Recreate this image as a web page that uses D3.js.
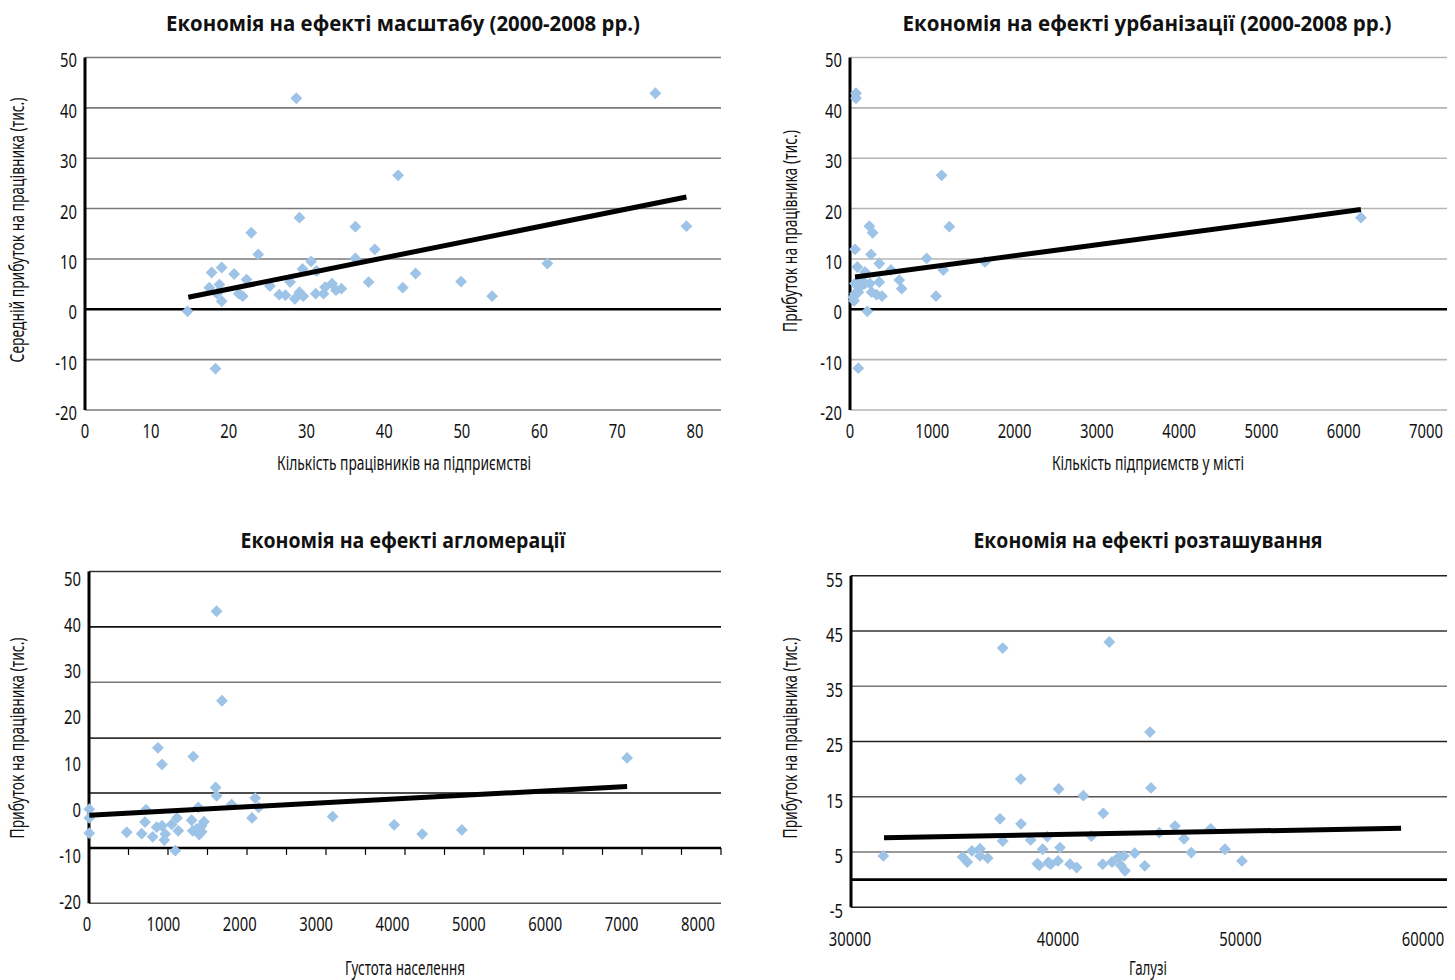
<!DOCTYPE html>
<html><head><meta charset="utf-8">
<script src="https://cdn.jsdelivr.net/npm/d3@7"></script>
<style>
body{margin:0;background:#fff;}
svg{display:block;}
.tk{font-family:"Noto Sans","Open Sans",sans-serif;font-size:20px;fill:#111;}
.al{font-family:"Noto Sans","Open Sans",sans-serif;font-size:19px;fill:#111;}
.ttl{font-family:"Open Sans","Noto Sans",sans-serif;font-weight:700;font-size:21px;fill:#111;}
</style></head>
<body>
<svg id="c" width="1455" height="980"></svg>
<script>
// ---------- DATA ----------
// Panel 1: scale economies
const p1Title = "Економія на ефекті масштабу (2000-2008 рр.)";
const p1XLabel = "Кількість працівників на підприємстві";
const p1YLabel = "Середній прибуток на працівника (тис.)";
const p1XTicks = [0,10,20,30,40,50,60,70,80];
const p1YTicks = [50,40,30,20,10,0,-10,-20];
const p1X = [28.7,41.8,29.1,22.9,36.3,23.8,38.8,36.3,30.6,17.8,19.1,20.7,29.5,31.3,17.5,18.8,18.5,19.1,22.3,21.3,21.8,25.3,27.9,26.5,27.3,28.5,29.1,29.6,31.2,32.2,32.4,33.3,33.8,34.5,38.0,42.4,14.7,18.3,44.05,74.9,78.9,61.0,49.9,53.9];
const p1Y = [41.9,26.6,18.2,15.2,16.4,10.9,11.9,10.1,9.5,7.3,8.3,7.0,8.0,7.6,4.3,4.9,3.1,1.6,5.9,3.1,2.6,4.6,5.4,2.9,2.8,2.1,3.4,2.6,3.1,3.1,4.4,5.1,3.8,4.1,5.4,4.3,-0.4,-11.8,7.1,42.9,16.5,9.1,5.5,2.6];
const p1TrendX = [14.8,78.9];
const p1TrendY = [2.4,22.3];

// Panel 2: urbanization economies
const p2Title = "Економія на ефекті урбанізації (2000-2008 рр.)";
const p2XLabel = "Кількість підприємств у місті";
const p2YLabel = "Прибуток на працівника (тис.)";
const p2XTicks = [0,1000,2000,3000,4000,5000,6000,7000];
const p2YTicks = [50,40,30,20,10,0,-10,-20];
const p2X = [73,73,1114,235,275,1207,61,255,932,89,356,498,182,1134,1640,599,356,628,1045,210,101,61,122,61,49,243,263,324,389,182,101,40,142,6209];
const p2Y = [42.9,41.9,26.6,16.5,15.2,16.4,11.9,10.9,10.1,8.4,9.1,7.8,7.4,7.8,9.4,5.8,5.4,4.1,2.6,-0.4,-11.7,5.1,4.4,3.1,1.7,5.1,3.4,2.9,2.6,5.1,3.4,2.4,5.8,18.2];
const p2TrendX = [61,6209];
const p2TrendY = [6.4,19.8];

// Panel 3: agglomeration economies
const p3Title = "Економія на ефекті агломерації";
const p3XLabel = "Густота населення";
const p3YLabel = "Прибуток на працівника (тис.)";
const p3XTicks = [0,1000,2000,3000,4000,5000,6000,7000,8000];
const p3XMinorTicks = d3.range(0,8001,500);
const p3YTicks = [50,40,30,20,10,0,-10,-20];
const p3Grid = [51.4,39.4,27.4,15.3,3.4,-20.5];
const p3Axis = -8.5;
const p3X = [1697,1767,929,982,1391,1684,1697,30,30,30,520,716,759,772,860,912,982,1025,1012,1109,1178,1195,1156,1370,1384,1436,1470,1501,1501,1531,1457,1894,2203,2247,2160,3216,4022,4389,4908,7072];
const p3Y = [42.8,23.4,13.2,9.6,11.3,4.6,2.8,-0.1,-2.0,-5.3,-5.1,-5.4,-2.9,-0.2,-6.1,-4.0,-3.7,-5.5,-6.8,-3.4,-2.0,-4.8,-9.1,-2.5,-4.8,-4.4,-5.6,-5.0,-3.7,-2.8,0.3,0.9,2.3,0.3,-2.0,-1.7,-3.5,-5.5,-4.6,11.0];
const p3TrendX = [30,7072];
const p3TrendY = [-1.4,4.8];

// Panel 4: localization economies
const p4Title = "Економія на ефекті розташування";
const p4XLabel = "Галузі";
const p4YLabel = "Прибуток на працівника (тис.)";
const p4XTicks = [30000,40000,50000,60000];
const p4YTicks = [55,45,35,25,15,5,-5];
const p4X = [31601,37341,42811,38206,40038,41387,42482,37212,38221,37341,38688,39486,39264,40110,41827,35418,35639,35865,36250,36250,36620,39005,39101,39534,39649,40000,40658,41024,42449,42959,43326,43436,43616,43671,44203,45041,45096,46411,45551,46904,48367,44753,47305,49151,50082];
const p4Y = [4.3,41.9,43.0,18.2,16.4,15.2,12.0,11.0,10.1,7.0,7.2,7.8,5.5,5.8,7.9,4.1,3.2,5.2,5.6,4.3,3.9,2.9,2.6,3.1,2.8,3.4,2.8,2.2,2.8,3.2,4.1,2.6,4.3,1.6,4.8,26.7,16.6,9.7,8.5,7.4,9.2,2.5,4.9,5.5,3.4];
const p4TrendX = [31635,58800];
const p4TrendY = [7.6,9.3];

// ---------- DRAWING ----------
const svg = d3.select("#c");
const PT = "#9DC3E6";
const diamond = d3.symbol(d3.symbolSquare, 70);
const SX = 0.74;

function panel(o){
  const g = svg.append("g");
  o.grid.forEach((v,i)=>{
    g.append("line").attr("x1",o.left).attr("x2",o.right)
      .attr("y1",o.y(v)).attr("y2",o.y(v))
      .attr("stroke",o.gridColor[i % o.gridColor.length]).attr("stroke-width",1.6);
  });
  g.append("line").attr("x1",o.left).attr("x2",o.right)
    .attr("y1",o.y(o.zero)).attr("y2",o.y(o.zero))
    .attr("stroke","#000").attr("stroke-width",2.6);
  if(o.minor){
    o.minor.forEach(v=>{
      g.append("line").attr("x1",o.tickX(v)).attr("x2",o.tickX(v))
        .attr("y1",o.y(o.zero)).attr("y2",o.y(o.zero)+7)
        .attr("stroke","#000").attr("stroke-width",1.2);
    });
  }
  g.append("line").attr("x1",o.left).attr("x2",o.left)
    .attr("y1",o.y(o.grid[0])).attr("y2",o.y(o.grid[o.grid.length-1]))
    .attr("stroke","#000").attr("stroke-width",3);
  g.selectAll("path.pt").data(o.xs.map((x,i)=>[x,o.ys[i]])).join("path")
    .attr("class","pt").attr("d",diamond)
    .attr("transform",d=>`translate(${o.x(d[0])},${o.y(d[1])}) rotate(45)`)
    .attr("fill",PT);
  g.append("path").datum(o.tx.map((x,i)=>[x,o.ty[i]]))
    .attr("d",d3.line().x(d=>o.x(d[0])).y(d=>o.y(d[1])))
    .attr("stroke","#000").attr("stroke-width",5).attr("fill","none");
  o.yTicks.forEach(v=>{
    g.append("text").attr("class","tk")
      .attr("transform",`translate(${o.left-8},${o.y(v)+o.yLabOff}) scale(${SX},1)`)
      .attr("text-anchor","end").attr("dominant-baseline","central").text(v);
  });
  o.xTicks.forEach(v=>{
    g.append("text").attr("class","tk")
      .attr("transform",`translate(${o.x(v)},${o.xLabY}) scale(${SX},1)`)
      .attr("text-anchor","middle").attr("dominant-baseline","central").text(v);
  });
  g.append("text").attr("class","ttl").attr("x",o.tcx).attr("y",o.tcy)
    .attr("text-anchor","middle").attr("dominant-baseline","central")
    .attr("textLength",o.tLen).attr("lengthAdjust","spacingAndGlyphs").text(o.title);
  g.append("text").attr("class","al").attr("x",o.xlx).attr("y",o.xly)
    .attr("text-anchor","middle").attr("dominant-baseline","central")
    .attr("textLength",o.xlLen).attr("lengthAdjust","spacingAndGlyphs").text(o.xLabel);
  g.append("text").attr("class","al")
    .attr("transform",`translate(${o.ylx},${o.yly}) rotate(-90)`)
    .attr("text-anchor","middle").attr("dominant-baseline","central")
    .attr("textLength",o.ylLen).attr("lengthAdjust","spacingAndGlyphs").text(o.yLabel);
}

// Panel 1
{
  const x = d3.scaleLinear().domain([0,10,80]).range([85,151,695]);
  const y = d3.scaleLinear().domain([-20,50]).range([410,57.5]);
  panel({x,y,left:85,right:721,grid:p1YTicks,gridColor:["#7a7a7a"],zero:0,
    xs:p1X,ys:p1Y,tx:p1TrendX,ty:p1TrendY,yTicks:p1YTicks,xTicks:p1XTicks,yLabOff:2,xLabY:430,
    title:p1Title,tcx:403,tcy:23,tLen:474,xLabel:p1XLabel,xlx:404,xly:463,xlLen:254,
    yLabel:p1YLabel,ylx:17,yly:230,ylLen:265});
}
// Panel 2
{
  const x = d3.scaleLinear().domain([0,7000]).range([850,1426]);
  const y = d3.scaleLinear().domain([-20,50]).range([410,57.5]);
  panel({x,y,left:850,right:1447,grid:p2YTicks,gridColor:["#b5b5b5"],zero:0,
    xs:p2X,ys:p2Y,tx:p2TrendX,ty:p2TrendY,yTicks:p2YTicks,xTicks:p2XTicks,yLabOff:2,xLabY:430,
    title:p2Title,tcx:1147,tcy:23,tLen:489,xLabel:p2XLabel,xlx:1148,xly:463,xlLen:192,
    yLabel:p2YLabel,ylx:790,yly:231,ylLen:202});
}
// Panel 3
{
  const x = d3.scaleLinear().domain([0,8000]).range([87,698]);
  const tickX = d3.scaleLinear().domain([0,8000]).range([89,721]);
  const y = d3.scaleLinear().domain([-20,50]).range([901,578]);
  panel({x,y,tickX,minor:p3XMinorTicks,left:89,right:721,grid:p3Grid,
    gridColor:["#333","#111","#777","#333","#111","#555"],zero:p3Axis,
    xs:p3X,ys:p3Y,tx:p3TrendX,ty:p3TrendY,yTicks:p3YTicks,xTicks:p3XTicks,yLabOff:0,xLabY:923,
    title:p3Title,tcx:403,tcy:540,tLen:325,xLabel:p3XLabel,xlx:405,xly:968,xlLen:120,
    yLabel:p3YLabel,ylx:17,yly:738,ylLen:201});
}
// Panel 4
{
  const x = d3.scaleLinear().domain([30000,40000,60000]).range([850,1058,1423]);
  const y = d3.scaleLinear().domain([-5,55]).range([907.3,575.7]);
  panel({x,y,left:851,right:1447,grid:p4YTicks,gridColor:["#222","#333","#777","#222","#555","#777","#222"],zero:0,
    xs:p4X,ys:p4Y,tx:p4TrendX,ty:p4TrendY,yTicks:p4YTicks,xTicks:p4XTicks,yLabOff:3,xLabY:938,
    title:p4Title,tcx:1148,tcy:540,tLen:349,xLabel:p4XLabel,xlx:1148,xly:968,xlLen:38,
    yLabel:p4YLabel,ylx:790,yly:738,ylLen:201});
}
</script>
</body></html>
